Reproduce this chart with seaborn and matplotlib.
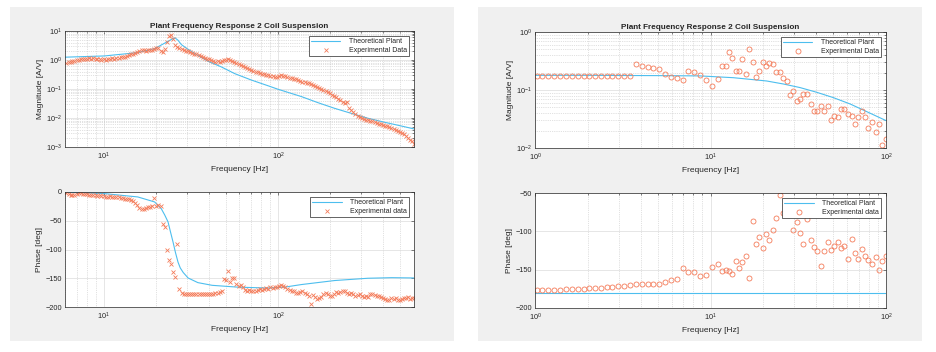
import numpy as np
import pandas as pd
import matplotlib
matplotlib.use("Agg")
import matplotlib.pyplot as plt
from matplotlib.patches import Rectangle
from matplotlib.ticker import LogLocator, NullFormatter, FixedLocator
import seaborn as sns

# ---------------- data: left figure (swept measurement) ----------------
freq_left = [
    6.1, 6.3, 6.5, 6.6, 6.8, 7.0, 7.2, 7.4, 7.6, 7.8,
    8.0, 8.2, 8.5, 8.7, 9.0, 9.2, 9.5, 9.7, 10.0, 10.3,
    10.6, 10.9, 11.2, 11.5, 11.8, 12.2, 12.5, 12.9, 13.2, 13.6,
    14.0, 14.4, 14.8, 15.2, 15.6, 16.0, 16.5, 17.0, 17.4, 17.9,
    18.4, 18.9, 19.5, 20.0, 20.6, 21.2, 21.8, 22.4, 23.0, 23.7,
    24.3, 25.0, 25.7, 26.4, 27.2, 28.0, 28.8, 29.6, 30.4, 31.3,
    32.1, 33.0, 34.0, 35.0, 36.0, 37.0, 38.0, 39.1, 40.2, 41.3,
    42.5, 43.7, 45.0, 46.2, 47.5, 48.9, 50.3, 51.7, 53.2, 54.7,
    56.2, 57.8, 59.5, 61.2, 62.9, 64.7, 66.5, 68.4, 70.3, 72.3,
    74.4, 76.5, 78.7, 80.9, 83.2, 85.6, 88.0, 90.5, 93.1, 95.7,
    98.4, 101, 104, 107, 110, 113, 117, 120, 123, 127,
    130, 134, 138, 142, 146, 150, 154, 159, 163, 168,
    173, 177, 182, 188, 193, 198, 204, 210, 216, 222,
    228, 235, 241, 248, 255, 263, 270, 278, 286, 294,
    302, 311, 320, 329, 338, 348, 358, 368, 378, 389,
    400, 411, 423, 435, 447, 460, 473, 486, 500, 514,
    529, 544, 559, 575, 591, 603,
]
mag_left = [
    0.78, 0.84, 0.87, 0.93, 0.96, 1.0, 1.04, 1.07, 1.1, 1.12,
    1.09, 1.14, 1.1, 1.15, 1.08, 1.12, 1.09, 1.04, 1.06, 1.03,
    1.07, 1.1, 1.13, 1.09, 1.15, 1.18, 1.23, 1.25, 1.31, 1.38,
    1.46, 1.55, 1.64, 1.76, 1.92, 2.08, 2.2, 2.14, 2.06, 2.18,
    2.25, 2.2, 2.35, 2.5, 2.62, 2.1, 1.95, 2.45, 4.2, 6.6,
    7.1, 5.2, 3.3, 2.9, 2.55, 2.4, 2.2, 2.1, 1.98, 1.86,
    1.76, 1.66, 1.55, 1.46, 1.37, 1.3, 1.2, 1.12, 1.05, 0.98,
    0.93, 0.88, 0.92, 0.86, 0.94, 0.98, 1.03, 1.06, 1.0, 0.95,
    0.86, 0.79, 0.73, 0.66, 0.6, 0.56, 0.52, 0.48, 0.45, 0.43,
    0.4, 0.38, 0.36, 0.34, 0.33, 0.31, 0.3, 0.28, 0.27, 0.26,
    0.25, 0.28, 0.3, 0.285, 0.27, 0.255, 0.245, 0.235, 0.22, 0.215,
    0.2, 0.19, 0.18, 0.175, 0.165, 0.155, 0.15, 0.14, 0.13, 0.12,
    0.105, 0.098, 0.09, 0.082, 0.076, 0.07, 0.062, 0.056, 0.051, 0.046,
    0.041, 0.037, 0.032, 0.036, 0.022, 0.019, 0.0155, 0.0135, 0.0118, 0.0105,
    0.0098, 0.0094, 0.0088, 0.0085, 0.0079, 0.0076, 0.0071, 0.0068, 0.0064, 0.006,
    0.0058, 0.0054, 0.0052, 0.0049, 0.0046, 0.0043, 0.004, 0.0036, 0.0033, 0.003,
    0.0027, 0.0024, 0.0021, 0.0018, 0.0016, 0.0013,
]
phase_left = [
    -2, -4, -5, -6, -5, -3, -2, -2, -3, -4,
    -4, -5, -5, -6, -6, -7, -6, -7, -7, -8,
    -8, -7, -8, -9, -8, -9, -10, -11, -12, -12,
    -13, -14, -16, -19, -23, -27, -30, -29, -27, -26,
    -26, -24, -11, -24, -23, -25, -55, -60, -100, -119,
    -125, -139, -147, -91, -168, -176, -178, -177, -178, -177,
    -178, -177, -178, -178, -177, -178, -177, -178, -177, -177,
    -177, -176, -175, -174, -172, -151, -153, -138, -156, -150,
    -149, -160, -163, -162, -166, -170, -173, -171, -172, -173,
    -172, -170, -169, -170, -168, -167, -168, -166, -167, -165,
    -166, -163, -162, -164, -165, -168, -170, -172, -173, -175,
    -175, -174, -173, -176, -178, -181, -194, -179, -183, -186,
    -185, -182, -178, -176, -178, -180, -181, -177, -174, -176,
    -174, -173, -172, -175, -177, -176, -178, -180, -179, -178,
    -180, -182, -181, -183, -178, -177, -179, -180, -181, -182,
    -184, -186, -188, -187, -185, -186, -184, -188, -187, -186,
    -184, -185, -183, -186, -185, -184,
]
theo_mag_freq_left = [6.0, 10.1, 15.7, 19.6, 23.4, 25.0, 25.7, 26.7, 27.9, 30.5, 34.6,
                      39.7, 47.3, 56.4, 70.3, 87.5, 100, 136, 169, 211, 263, 328, 410, 510, 603]
theo_mag_left = [1.25, 1.38, 1.80, 2.47, 4.4, 5.5, 5.75, 4.8, 3.4, 2.34, 1.46,
                 0.905, 0.578, 0.34, 0.204, 0.130, 0.098, 0.055, 0.034, 0.0216, 0.0145,
                 0.0098, 0.0071, 0.0053, 0.0042]
theo_ph_freq_left = [6.0, 10.1, 15.7, 19.6, 21.4, 22.4, 23.4, 24.2, 25.0, 25.8, 26.7, 27.5,
                     28.6, 30.5, 34.7, 41.9, 59, 87.6, 109, 136, 211, 328, 450, 603]
theo_ph_left = [0, -2.8, -8.6, -17.3, -29, -40, -52, -70, -87, -105, -122, -132,
                -140, -149.5, -157.6, -162.3, -165.5, -167, -165.5, -161, -154, -150, -149, -149.5]

# ---------------- data: right figure (stepped measurement) ----------------
freq_right = [
    1.02, 1.10, 1.19, 1.29, 1.39, 1.50, 1.62, 1.75, 1.89, 2.04,
    2.20, 2.37, 2.56, 2.76, 2.99, 3.22, 3.48, 3.75, 4.05, 4.38,
    4.72, 5.10, 5.51, 5.94, 6.42, 6.93, 7.48, 8.07, 8.71, 9.41,
    10.16,
    11.1, 11.7, 12.2, 12.7, 13.3, 13.9, 14.5, 15.2, 15.9, 16.6,
    17.4, 18.2, 19.0, 19.8, 20.7, 21.6, 22.6, 23.7, 24.9, 26.0,
    27.2, 28.4, 29.6, 31.0, 32.4, 33.8, 35.3, 37.2, 38.9, 40.6,
    42.4, 44.3, 46.5, 48.6, 50.8, 53.0, 55.4, 57.9, 60.5, 63.7,
    66.6, 69.5, 72.6, 75.9, 79.3, 83.5, 87.3, 91.2, 95.3, 99.6,
]
mag_right = [
    0.175, 0.174, 0.173, 0.173, 0.173, 0.172, 0.172, 0.172, 0.172, 0.172,
    0.171, 0.171, 0.171, 0.171, 0.171, 0.171, 0.174, 0.277, 0.263, 0.249,
    0.243, 0.234, 0.192, 0.166, 0.161, 0.151, 0.216, 0.202, 0.181, 0.149,
    0.117,
    0.153, 0.260, 0.260, 0.459, 0.362, 0.210, 0.210, 0.338, 0.187, 0.510,
    0.308, 0.168, 0.213, 0.308, 0.260, 0.292, 0.277, 0.205, 0.207, 0.163,
    0.145, 0.081, 0.095, 0.0657, 0.070, 0.0843, 0.0855, 0.0582, 0.0441, 0.0435,
    0.0538, 0.0441, 0.0524, 0.0304, 0.0352, 0.0347, 0.0465, 0.0477, 0.0386, 0.0357,
    0.0260, 0.0343, 0.0429, 0.0338, 0.0219, 0.0277, 0.0192, 0.0260, 0.0111, 0.0143,
]
phase_right = [
    -176.9, -176.5, -176.5, -176.1, -176.1, -175.6, -175.2, -175.2, -174.7, -174.3,
    -173.9, -173.4, -173.0, -172.6, -171.7, -170.8, -170.0, -169.1, -169.1, -169.1,
    -168.7, -168.2, -166.0, -163.9, -162.1, -147.8, -153.4, -152.6, -158.5, -157.0,
    -146.0,
    -142.6, -151.7, -150.0, -151.7, -155.6, -138.2, -147.4, -139.5, -132.6, -160.4,
    -86.5, -116.9, -107.8, -121.3, -103.9, -110.8, -98.7, -82.1, -52.6, -76.0,
    -77.3, -70.0, -97.8, -88.2, -101.7, -116.5, -84.3, -111.7, -120.4, -125.6,
    -145.6, -125.2, -113.9, -123.9, -118.7, -113.9, -121.3, -119.1, -135.6, -109.5,
    -128.2, -135.6, -123.4, -132.6, -137.4, -143.0, -133.0, -150.4, -138.2, -132.6,
]
theo_mag_freq_right = [1.0, 2.0, 3.0, 5.0, 8.7, 13.5, 20.9, 26.0, 32.4, 40.3, 50.1, 62.4, 77.6, 100]
theo_mag_right = [0.179, 0.179, 0.178, 0.177, 0.175, 0.163, 0.143, 0.127, 0.110, 0.0913,
                  0.0739, 0.0575, 0.0424, 0.0297]
theo_ph_freq_right = [1.0, 100.0]
theo_ph_right = [-180.0, -180.0]

# ---------------- styling ----------------
sns.set_theme(style="white")
plt.rcParams["font.family"] = ["Liberation Sans", "DejaVu Sans"]
plt.rcParams["mathtext.default"] = "regular"

BLUE = "#4DBEEE"
ORANGE = "#F47C5A"
TXT = "#262626"
W, H = 936, 352

fig = plt.figure(figsize=(W / 100, H / 100), dpi=100, facecolor="white")


def rect(x1, y1, x2, y2):
    return [x1 / W, 1 - y2 / H, (x2 - x1) / W, (y2 - y1) / H]


for x1, x2 in [(10, 454), (478, 922)]:
    fig.add_artist(Rectangle((x1 / W, 1 - 341 / H), (x2 - x1) / W, 334 / H,
                             transform=fig.transFigure, facecolor="#f0f0f0",
                             edgecolor="none", zorder=0))


def style_axes(ax, logy):
    ax.set_facecolor("white")
    ax.set_xscale("log")
    if logy:
        ax.set_yscale("log")
    for s in ax.spines.values():
        s.set_color(TXT)
        s.set_linewidth(0.5)
        s.set_visible(True)
    ax.tick_params(which="both", direction="in", top=True, right=True,
                   colors=TXT, labelsize=5.3, width=0.4)
    ax.tick_params(axis="y", which="both", pad=2)
    ax.tick_params(axis="x", which="both", pad=3)
    ax.tick_params(which="major", length=2.5)
    ax.tick_params(which="minor", length=1.4)
    ax.xaxis.set_minor_locator(LogLocator(base=10, subs=np.arange(2, 10)))
    ax.xaxis.set_minor_formatter(NullFormatter())
    if logy:
        ax.yaxis.set_minor_locator(LogLocator(base=10, subs=np.arange(2, 10)))
        ax.yaxis.set_minor_formatter(NullFormatter())
    ax.grid(True, which="major", color="#dcdcdc", linewidth=0.5, linestyle="-")
    ax.grid(True, which="minor", axis="x", color="#c4c4c4", linewidth=0.5, linestyle=":")
    if logy:
        ax.grid(True, which="minor", axis="y", color="#c4c4c4", linewidth=0.5, linestyle=":")
    ax.set_axisbelow(True)
    ax.set_xlabel("Frequency [Hz]", fontsize=6, color=TXT, labelpad=2.5)


def draw(ax, tf, tv, ef, ev, marker, exp_label):
    sns.lineplot(x=tf, y=tv, ax=ax, color=BLUE, linewidth=0.8, estimator=None,
                 sort=False, label="Theoretical Plant")
    if marker == "x":
        sns.lineplot(x=ef, y=ev, ax=ax, estimator=None, sort=False, linestyle="",
                     marker="x", markersize=2.8, markeredgewidth=0.6,
                     markeredgecolor=ORANGE, color=ORANGE, label=exp_label)
    else:
        sns.lineplot(x=ef, y=ev, ax=ax, estimator=None, sort=False, linestyle="",
                     marker="o", markersize=3.6, markeredgewidth=0.6,
                     markerfacecolor="none", markeredgecolor=ORANGE,
                     color=ORANGE, label=exp_label)
    leg = ax.legend(loc="upper right", fontsize=5, frameon=True, fancybox=False,
                    framealpha=1, edgecolor=TXT, handlelength=4.2, labelspacing=0.25,
                    borderpad=0.35, handletextpad=1.2, borderaxespad=0.7, numpoints=1)
    leg.get_frame().set_linewidth(0.5)


title = "Plant Frequency Response 2 Coil Suspension"

# left magnitude
ax1 = fig.add_axes(rect(65, 31, 414, 147))
draw(ax1, theo_mag_freq_left, theo_mag_left, freq_left, mag_left, "x", "Experimental Data")
style_axes(ax1, True)
ax1.set_xlim(6, 603)
ax1.set_ylim(1e-3, 1e1)
ax1.set_ylabel("Magnitude [A/V]", fontsize=6, color=TXT, labelpad=2)
ax1.set_title(title, fontsize=5.9, fontweight="bold", color=TXT, pad=2.5)

# left phase
ax2 = fig.add_axes(rect(65, 192, 414, 307))
draw(ax2, theo_ph_freq_left, theo_ph_left, freq_left, phase_left, "x", "Experimental data")
style_axes(ax2, False)
ax2.set_xlim(6, 603)
ax2.set_ylim(-200, 0)
ax2.yaxis.set_major_locator(FixedLocator([-200, -150, -100, -50, 0]))
ax2.set_ylabel("Phase [deg]", fontsize=6, color=TXT, labelpad=2)

# right magnitude
ax3 = fig.add_axes(rect(535, 32, 886, 148))
draw(ax3, theo_mag_freq_right, theo_mag_right, freq_right, mag_right, "o", "Experimental Data")
style_axes(ax3, True)
ax3.set_xlim(1, 100)
ax3.set_ylim(1e-2, 1e0)
ax3.set_ylabel("Magnitude [A/V]", fontsize=6, color=TXT, labelpad=2)
ax3.set_title(title, fontsize=5.9, fontweight="bold", color=TXT, pad=2.5)

# right phase
ax4 = fig.add_axes(rect(535, 193, 886, 308))
draw(ax4, theo_ph_freq_right, theo_ph_right, freq_right, phase_right, "o", "Experimental data")
style_axes(ax4, False)
ax4.set_xlim(1, 100)
ax4.set_ylim(-200, -50)
ax4.yaxis.set_major_locator(FixedLocator([-200, -150, -100, -50]))
ax4.set_ylabel("Phase [deg]", fontsize=6, color=TXT, labelpad=2)

fig.savefig("out.png", dpi=100, facecolor="white")
